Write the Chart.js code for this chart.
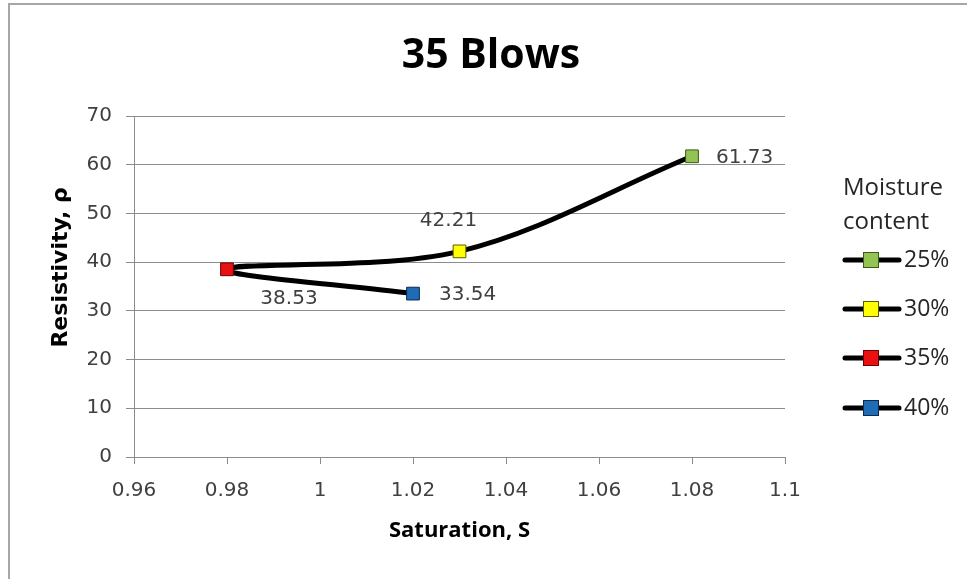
<!DOCTYPE html>
<html>
<head>
<meta charset="utf-8">
<script src="https://cdn.jsdelivr.net/npm/chart.js@4"></script>
<style>
  html, body { margin: 0; padding: 0; background: #fff; }
  #wrap { width: 967px; height: 579px; }
</style>
</head>
<body>
<div id="wrap"><canvas id="c" width="967" height="579"></canvas></div>
<script>
// データ
const seriesNames = ['25%', '30%', '35%', '40%'];
const saturation = [1.08, 1.03, 0.98, 1.02];
const resistivity = [61.73, 42.21, 38.53, 33.54];
const markerColors = ['#92c353', '#ffff00', '#e81010', '#1f6cb5'];
const markerBorders = ['#3a5a1a', '#5a5a00', '#6a0000', '#0a2a50'];
const xTicks = [0.96, 0.98, 1, 1.02, 1.04, 1.06, 1.08, 1.1];
const yTicks = [0, 10, 20, 30, 40, 50, 60, 70];

// ラベルの位置（点からのずれ）
const labelOffsets = [
  { dx: 24, dy: 2, align: 'left' },
  { dx: -11, dy: -31, align: 'center' },
  { dx: 62, dy: 29, align: 'center' },
  { dx: 26, dy: 1, align: 'left' }
];

const points = saturation.map((x, i) => ({ x: x, y: resistivity[i] }));

const datasets = [{
  label: 'line',
  data: points,
  showLine: true,
  borderColor: '#000',
  borderWidth: 5,
  tension: 0.35,
  pointRadius: 0,
  fill: false,
  order: 2
}];
seriesNames.forEach((name, i) => {
  datasets.push({
    label: name,
    data: [points[i]],
    showLine: false,
    pointStyle: 'rect',
    pointRadius: 9,
    pointBackgroundColor: markerColors[i],
    pointBorderColor: markerBorders[i],
    pointBorderWidth: 1,
    order: 1
  });
});

// 枠線とタイトル
const framePlugin = {
  id: 'frame',
  beforeDraw(chart) {
    const ctx = chart.ctx;
    ctx.save();
    ctx.fillStyle = '#fff';
    ctx.fillRect(0, 0, chart.width, chart.height);
    ctx.strokeStyle = '#a6a6a6';
    ctx.lineWidth = 2;
    ctx.beginPath();
    ctx.moveTo(9, chart.height);
    ctx.lineTo(9, 4);
    ctx.lineTo(chart.width, 4);
    ctx.stroke();
    ctx.fillStyle = '#000';
    ctx.font = 'bold 41px "Open Sans"';
    ctx.textAlign = 'center';
    ctx.textBaseline = 'alphabetic';
    ctx.fillText('35 Blows', 491, 68);
    ctx.restore();
  }
};

// データラベル
const labelPlugin = {
  id: 'valueLabels',
  afterDatasetsDraw(chart) {
    const ctx = chart.ctx;
    const xs = chart.scales.x, ys = chart.scales.y;
    ctx.save();
    ctx.font = '20px "DejaVu Sans"';
    ctx.fillStyle = '#404040';
    ctx.textBaseline = 'middle';
    resistivity.forEach((v, i) => {
      const o = labelOffsets[i];
      ctx.textAlign = o.align;
      ctx.fillText(v.toFixed(2), xs.getPixelForValue(saturation[i]) + o.dx, ys.getPixelForValue(v) + o.dy);
    });
    ctx.restore();
  }
};

// 凡例（線＋マーカー）
const legendPlugin = {
  id: 'customLegend',
  afterDraw(chart) {
    const ctx = chart.ctx;
    ctx.save();
    ctx.font = '24px "Open Sans"';
    ctx.fillStyle = '#262626';
    ctx.textAlign = 'left';
    ctx.textBaseline = 'middle';
    ctx.fillText('Moisture', 843, 188);
    ctx.fillText('content', 843, 222);
    const rowY = [260, 309, 358, 408];
    seriesNames.forEach((name, i) => {
      const y = rowY[i];
      ctx.strokeStyle = '#000';
      ctx.lineWidth = 5;
      ctx.lineCap = 'round';
      ctx.beginPath();
      ctx.moveTo(845, y);
      ctx.lineTo(899, y);
      ctx.stroke();
      ctx.fillStyle = markerColors[i];
      ctx.fillRect(863, y - 8, 16, 16);
      ctx.strokeStyle = markerBorders[i];
      ctx.lineWidth = 1;
      ctx.strokeRect(863.5, y - 7.5, 15, 15);
      ctx.fillStyle = '#262626';
      ctx.font = '23px "Open Sans"';
      ctx.fillText(name, 904, y);
    });
    ctx.restore();
  }
};

new Chart(document.getElementById('c'), {
  type: 'scatter',
  data: { datasets: datasets },
  plugins: [framePlugin, labelPlugin, legendPlugin],
  options: {
    responsive: false,
    animation: false,
    layout: { padding: { left: 40, right: 182, top: 116, bottom: 8 } },
    plugins: {
      legend: { display: false },
      tooltip: { enabled: false },
      title: { display: false }
    },
    scales: {
      x: {
        type: 'linear',
        min: 0.96,
        max: 1.1,
        afterBuildTicks(scale) { scale.ticks = xTicks.map(v => ({ value: v })); },
        afterFit(scale) { scale.height = 114; },
        ticks: {
          color: '#404040',
          font: { family: '"DejaVu Sans"', size: 20 },
          padding: 15,
          maxRotation: 0,
          callback: v => String(+v.toFixed(2))
        },
        grid: { drawOnChartArea: false, color: '#8c8c8c', tickLength: 7, tickColor: '#8c8c8c' },
        border: { color: '#8c8c8c', width: 1 },
        title: {
          display: true,
          text: 'Saturation, S',
          color: '#000',
          font: { family: '"Open Sans"', size: 22, weight: 'bold' },
          padding: { top: 6, bottom: 27 }
        }
      },
      y: {
        type: 'linear',
        min: 0,
        max: 70,
        afterBuildTicks(scale) { scale.ticks = yTicks.map(v => ({ value: v })); },
        afterFit(scale) { scale.width = 94; },
        ticks: {
          color: '#404040',
          font: { family: '"DejaVu Sans"', size: 20 },
          padding: 14
        },
        grid: { color: '#8c8c8c', tickLength: 8, tickColor: '#8c8c8c' },
        border: { color: '#8c8c8c', width: 1 },
        title: {
          display: true,
          text: '     Resistivity, ρ',
          color: '#000',
          font: { family: '"DejaVu Sans"', size: 22, weight: 'bold' },
          padding: { top: 8, bottom: 0 }
        }
      }
    }
  }
});
</script>
</body>
</html>
